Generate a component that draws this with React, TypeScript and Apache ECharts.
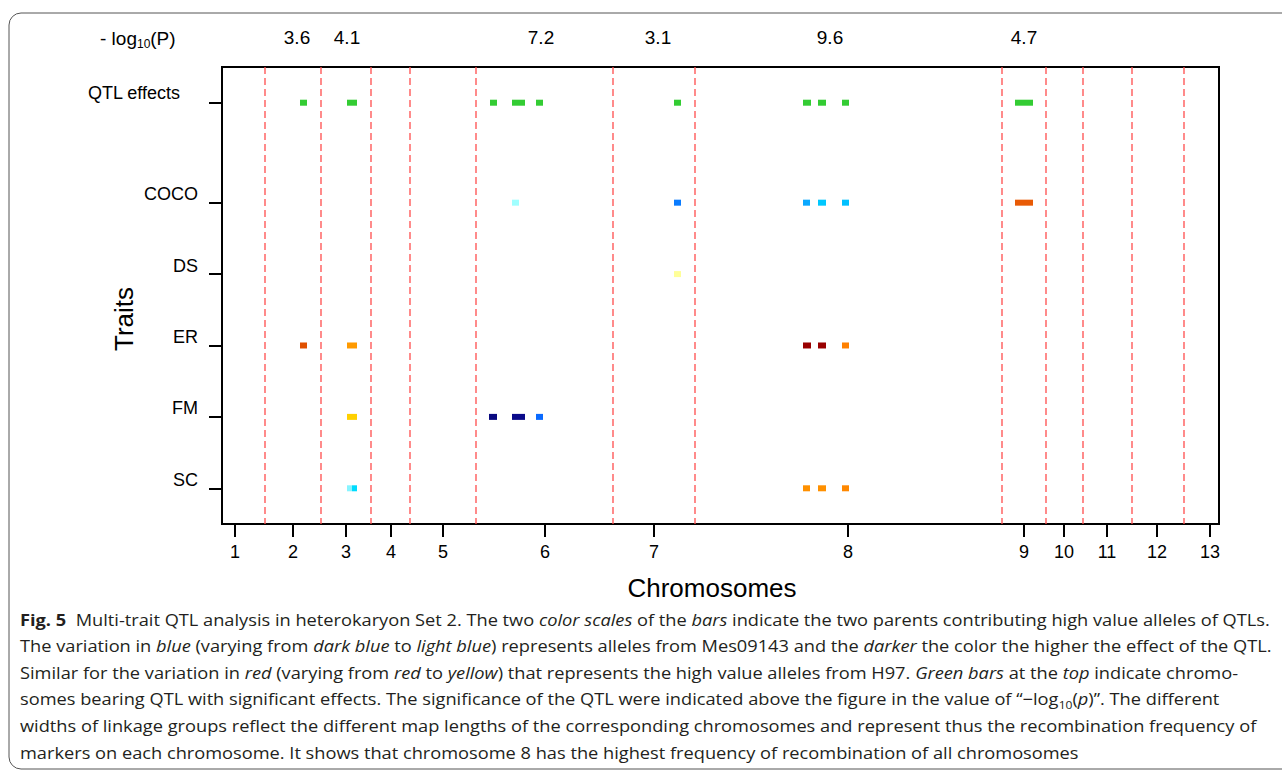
import React, { useEffect, useRef } from "react";
import * as echarts from "echarts";

// ---- data ----
const chromosomes = ["1", "2", "3", "4", "5", "6", "7", "8", "9", "10", "11", "12", "13"];
// cumulative map position (cM-like units) of each chromosome's tick
const chromosomeTicks = [13, 71, 124, 169, 221, 323, 432, 626, 802, 842, 885, 935, 988];
// boundaries between linkage groups
const chromosomeBounds = [43, 99, 149, 188, 254, 391, 473, 780, 824, 861, 910, 962];

const traits = ["SC", "FM", "ER", "DS", "COCO", "QTL effects"];
const traitRows = [0.5, 1.5, 2.5, 3.5, 4.5, 5.9];

const lodValues = ["3.6", "4.1", "7.2", "3.1", "9.6", "4.7"];
const lodPositions = [75, 125, 319, 436, 608, 802];
const lodRow = 6.82;

// QTL bars: trait, start, end, colour
const qtlTrait = [
  "QTL effects", "QTL effects", "QTL effects", "QTL effects", "QTL effects",
  "QTL effects", "QTL effects", "QTL effects", "QTL effects", "QTL effects",
  "COCO", "COCO", "COCO", "COCO", "COCO", "COCO",
  "DS",
  "ER", "ER", "ER", "ER", "ER",
  "FM", "FM", "FM", "FM",
  "SC", "SC", "SC", "SC", "SC",
];
const qtlStart = [
  78, 125, 268, 290, 314, 452, 581, 596, 620, 793,
  290, 452, 581, 596, 620, 793,
  452,
  78, 125, 581, 596, 620,
  125, 267, 290, 314,
  125, 130, 581, 596, 620,
];
const qtlEnd = [
  85, 135, 275, 303, 321, 459, 589, 604, 627, 811,
  297, 459, 588, 604, 627, 811,
  459,
  85, 135, 589, 604, 627,
  135, 275, 303, 321,
  130, 135, 588, 604, 627,
];
const qtlColor = [
  "#33cc33", "#33cc33", "#33cc33", "#33cc33", "#33cc33",
  "#33cc33", "#33cc33", "#33cc33", "#33cc33", "#33cc33",
  "#a0ffff", "#0a7cff", "#0aa8ff", "#00c8ff", "#00c0ff", "#e85a05",
  "#ffff99",
  "#e05000", "#ff9a00", "#990000", "#990000", "#ff8000",
  "#ffd000", "#0a0a80", "#0a0a8a", "#0a6aff",
  "#88f4ff", "#00dcff", "#ff9000", "#ff9000", "#ff8800",
];

const captionLines = [
  "{b|Fig. 5}  Multi-trait QTL analysis in heterokaryon Set 2. The two {i|color scales} of the {i|bars} indicate the two parents contributing high value alleles of QTLs.",
  "The variation in {i|blue} (varying from {i|dark blue} to {i|light blue}) represents alleles from Mes09143 and the {i|darker} the color the higher the effect of the QTL.",
  "Similar for the variation in {i|red} (varying from {i|red} to {i|yellow}) that represents the high value alleles from H97. {i|Green bars} at the {i|top} indicate chromo-",
  "somes bearing QTL with significant effects. The significance of the QTL were indicated above the figure in the value of \u201c\u2212log{s|10}{n|(}{i|p}{n|)}\u201d. The different",
  "widths of linkage groups reflect the different map lengths of the corresponding chromosomes and represent thus the recombination frequency of",
  "markers on each chromosome. It shows that chromosome 8 has the highest frequency of recombination of all chromosomes",
];

const FONT = "'Liberation Sans', Arial, Helvetica, sans-serif";
const CAPTION_FONT = "'Open Sans', 'Noto Sans', sans-serif";

export default function App() {
  const ref = useRef<HTMLDivElement>(null);

  useEffect(() => {
    if (!ref.current) return;
    const chart = echarts.init(ref.current, undefined, { renderer: "svg" });

    const yMax = 6.4;
    const traitIndex = (t: string) => traits.indexOf(t);

    const barData = qtlTrait.map((t, i) => ({
      value: [qtlStart[i], qtlEnd[i], traitRows[traitIndex(t)]],
      itemStyle: { color: qtlColor[i] },
    }));

    const capFs = 16.6;
    const captionGraphics = captionLines.map((line, i) => ({
      type: "text",
      x: 20,
      y: 608 + i * 26.6,
      scaleX: 1.098,
      style: {
        text: line,
        fontFamily: CAPTION_FONT,
        fontSize: capFs,
        lineHeight: 22,
        fill: "#231f20",
        rich: {
          b: { fontWeight: "bold", fontSize: capFs, fontFamily: CAPTION_FONT, lineHeight: 22, fill: "#231f20" },
          i: { fontStyle: "italic", fontSize: capFs, fontFamily: CAPTION_FONT, lineHeight: 22, fill: "#231f20" },
          n: { fontSize: capFs, fontFamily: CAPTION_FONT, lineHeight: 22, fill: "#231f20" },
          s: { fontSize: 11, fontFamily: CAPTION_FONT, lineHeight: 22, verticalAlign: "bottom", fill: "#231f20" },
        },
      },
    }));

    chart.setOption({
      animation: false,
      textStyle: { fontFamily: FONT, color: "#000" },
      grid: {
        left: 222,
        right: 63,
        top: 67,
        bottom: 248,
        show: true,
        borderColor: "#000",
        borderWidth: 2,
        backgroundColor: "transparent",
      },
      xAxis: {
        type: "value",
        min: 0,
        max: 997,
        name: "Chromosomes",
        nameLocation: "middle",
        nameGap: 51,
        nameMoveOverlap: false,
        nameTextStyle: { fontSize: 26, color: "#000", fontFamily: FONT, padding: [0, 17, 0, 0] },
        axisLine: { show: true, lineStyle: { color: "#000", width: 2 } },
        axisTick: {
          show: true,
          customValues: chromosomeTicks,
          length: 13,
          lineStyle: { color: "#000", width: 2 },
        },
        axisLabel: {
          customValues: chromosomeTicks,
          formatter: (v: number) => chromosomes[chromosomeTicks.indexOf(v)] ?? "",
          fontSize: 18,
          color: "#000",
          margin: 19,
          fontFamily: FONT,
        },
        splitLine: { show: false },
      },
      yAxis: {
        type: "value",
        min: 0,
        max: yMax,
        name: "Traits",
        nameLocation: "middle",
        nameGap: 85,
        nameMoveOverlap: false,
        nameRotate: 90,
        nameTextStyle: { fontSize: 26, color: "#000", fontFamily: FONT, padding: [0, 47, 0, 0] },
        axisLine: { show: true, lineStyle: { color: "#000", width: 2 } },
        axisTick: {
          show: true,
          customValues: traitRows,
          length: 13,
          lineStyle: { color: "#000", width: 2 },
        },
        axisLabel: {
          customValues: traitRows,
          margin: 24,
          formatter: (v: number) => {
            const i = traitRows.indexOf(v);
            if (i < 0) return "";
            return i === traits.length - 1 ? `{q|${traits[i]}}` : `{t|${traits[i]}}`;
          },
          rich: {
            t: { fontSize: 18, color: "#000", fontFamily: FONT, padding: [0, 0, 17, 0] },
            q: { fontSize: 18, color: "#000", fontFamily: FONT, padding: [0, 18, 20, 0] },
          },
        },
        splitLine: { show: false },
      },
      graphic: [
        {
          type: "rect",
          shape: { x: 9, y: 13, width: 1320, height: 756, r: 12 },
          style: { fill: "none", stroke: "#555", lineWidth: 1 },
          silent: true,
        },
        {
          type: "text",
          left: 100,
          top: 26,
          style: {
            text: "- log{s|10}(P)",
            fontFamily: FONT,
            fontSize: 19,
            lineHeight: 24,
            fill: "#000",
            rich: {
              s: { fontSize: 12, fontFamily: FONT, lineHeight: 24, verticalAlign: "bottom", fill: "#000" },
            },
          },
        },
        ...captionGraphics,
      ],
      series: [
        {
          type: "custom",
          name: "boundaries",
          silent: true,
          data: chromosomeBounds.map((v) => [v, 0]),
          renderItem: (params: any, api: any) => {
            const b = api.coord([api.value(0), 0]);
            const t = api.coord([api.value(0), yMax]);
            return {
              type: "line",
              shape: { x1: b[0], y1: t[1], x2: b[0], y2: b[1] },
              style: { stroke: "#ff4d4d", lineWidth: 1.3, lineDash: [7, 4] },
            };
          },
        },
        {
          type: "custom",
          name: "QTL",
          data: barData,
          encode: { x: [0, 1], y: 2 },
          renderItem: (params: any, api: any) => {
            const s = api.coord([api.value(0), api.value(2)]);
            const e = api.coord([api.value(1), api.value(2)]);
            return {
              type: "rect",
              shape: { x: s[0], y: s[1] - 3, width: e[0] - s[0], height: 6 },
              style: { fill: api.visual("color") },
            };
          },
        },
        {
          type: "custom",
          name: "-log10(P)",
          silent: true,
          clip: false,
          data: lodPositions.map((x) => [x, lodRow]),
          renderItem: (params: any, api: any) => {
            const p = api.coord([api.value(0), api.value(1)]);
            return {
              type: "text",
              x: p[0],
              y: p[1],
              style: {
                text: lodValues[params.dataIndex],
                fontSize: 19,
                fontFamily: FONT,
                fill: "#000",
                align: "center",
                verticalAlign: "middle",
              },
            };
          },
        },
      ],
    });

    return () => chart.dispose();
  }, []);

  return (
    <div
      ref={ref}
      style={{ position: "fixed", left: 0, top: 0, width: 1282, height: 772, background: "#fff" }}
    />
  );
}
